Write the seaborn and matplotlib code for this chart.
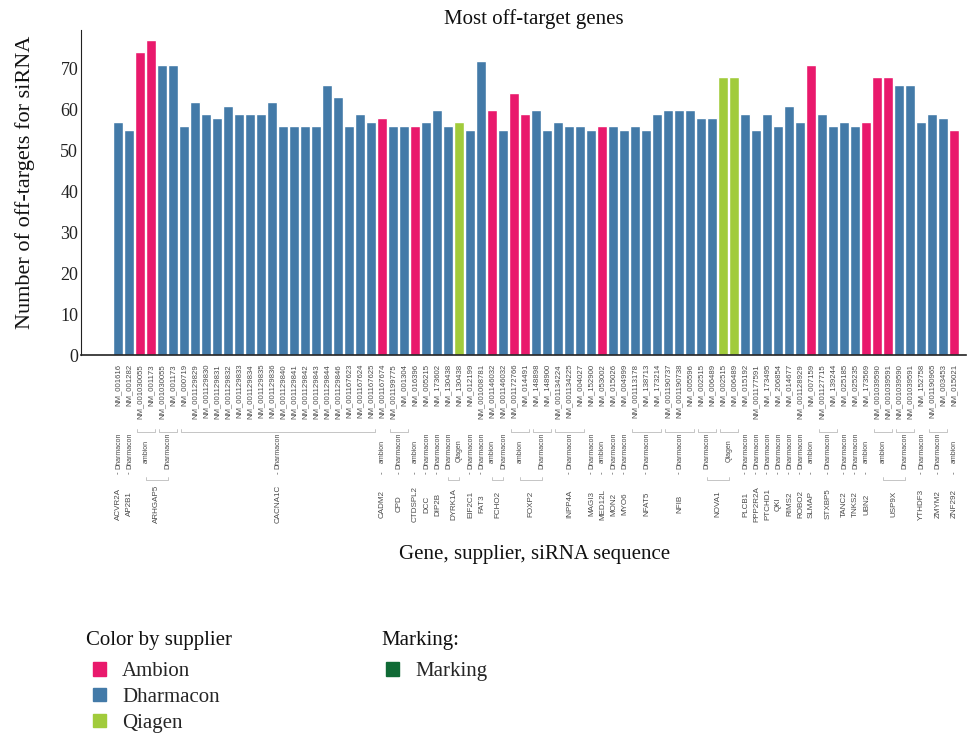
import itertools
import pandas as pd
import seaborn as sns
import matplotlib.pyplot as plt
from matplotlib.patches import Patch

# One entry per bar
gene = ["ACVR2A", "AP2B1",
        "ARHGAP5", "ARHGAP5", "ARHGAP5", "ARHGAP5",
        "CACNA1C", "CACNA1C", "CACNA1C", "CACNA1C", "CACNA1C", "CACNA1C",
        "CACNA1C", "CACNA1C", "CACNA1C", "CACNA1C", "CACNA1C", "CACNA1C",
        "CACNA1C", "CACNA1C", "CACNA1C", "CACNA1C", "CACNA1C", "CACNA1C",
        "CADM2", "CPD", "CPD", "CTDSPL2", "DCC", "DIP2B", "DYRK1A", "DYRK1A",
        "EIF2C1", "FAT3", "FCHO2", "FCHO2", "FOXP2", "FOXP2", "FOXP2", "FOXP2",
        "INPP4A", "INPP4A", "INPP4A", "MAGI3", "MED12L", "MON2", "MYO6",
        "NFAT5", "NFAT5", "NFAT5", "NFIB", "NFIB", "NFIB",
        "NOVA1", "NOVA1", "NOVA1", "NOVA1",
        "PLCB1", "PPP2R2A", "PTCHD1", "QKI", "RIMS2", "ROBO2", "SLMAP",
        "STXBP5", "STXBP5", "TANC2", "TNKS2", "UBN2",
        "USP9X", "USP9X", "USP9X", "USP9X", "YTHDF3", "ZMYM2", "ZMYM2", "ZNF292"]

supplier = ["Dharmacon", "Dharmacon",
            "ambion", "ambion", "Dharmacon", "Dharmacon",
            "Dharmacon", "Dharmacon", "Dharmacon", "Dharmacon", "Dharmacon", "Dharmacon",
            "Dharmacon", "Dharmacon", "Dharmacon", "Dharmacon", "Dharmacon", "Dharmacon",
            "Dharmacon", "Dharmacon", "Dharmacon", "Dharmacon", "Dharmacon", "Dharmacon",
            "ambion", "Dharmacon", "Dharmacon", "ambion", "Dharmacon", "Dharmacon", "Dharmacon", "Qiagen",
            "Dharmacon", "Dharmacon", "ambion", "Dharmacon", "ambion", "ambion", "Dharmacon", "Dharmacon",
            "Dharmacon", "Dharmacon", "Dharmacon", "Dharmacon", "ambion", "Dharmacon", "Dharmacon",
            "Dharmacon", "Dharmacon", "Dharmacon", "Dharmacon", "Dharmacon", "Dharmacon",
            "Dharmacon", "Dharmacon", "Qiagen", "Qiagen",
            "Dharmacon", "Dharmacon", "Dharmacon", "Dharmacon", "Dharmacon", "Dharmacon", "ambion",
            "Dharmacon", "Dharmacon", "Dharmacon", "Dharmacon", "ambion",
            "ambion", "ambion", "Dharmacon", "Dharmacon", "Dharmacon", "Dharmacon", "Dharmacon", "ambion"]

sequence = ["NM_001616", "NM_001282",
            "NM_001030055", "NM_001173", "NM_001030055", "NM_001173",
            "NM_000719", "NM_001129829", "NM_001129830", "NM_001129831", "NM_001129832", "NM_001129833",
            "NM_001129834", "NM_001129835", "NM_001129836", "NM_001129840", "NM_001129841", "NM_001129842",
            "NM_001129843", "NM_001129844", "NM_001129846", "NM_001167623", "NM_001167624", "NM_001167625",
            "NM_001167674", "NM_001199775", "NM_001304", "NM_016396", "NM_005215", "NM_173602",
            "NM_130438", "NM_130438",
            "NM_012199", "NM_001008781", "NM_001146032", "NM_001146032",
            "NM_001172766", "NM_014491", "NM_148898", "NM_148900",
            "NM_001134224", "NM_001134225", "NM_004027", "NM_152900", "NM_053002", "NM_015026", "NM_004999",
            "NM_001113178", "NM_138713", "NM_173214", "NM_001190737", "NM_001190738", "NM_005596",
            "NM_002515", "NM_006489", "NM_002515", "NM_006489",
            "NM_015192", "NM_001177591", "NM_173495", "NM_206854", "NM_014677", "NM_001128929", "NM_007159",
            "NM_001127715", "NM_139244", "NM_025185", "NM_025235", "NM_173569",
            "NM_001039590", "NM_001039591", "NM_001039590", "NM_001039591",
            "NM_152758", "NM_001190965", "NM_003453", "NM_015021"]

off_targets = [57, 55, 74, 77, 71, 71,
               56, 62, 59, 58, 61, 59, 59, 59, 62, 56, 56, 56, 56, 66, 63, 56, 59, 57,
               58, 56, 56, 56, 57, 60, 56, 57,
               55, 72, 60, 55, 64, 59, 60, 55,
               57, 56, 56, 55, 56, 56, 55,
               56, 55, 59, 60, 60, 60,
               58, 58, 68, 68,
               59, 55, 59, 56, 61, 57, 71,
               59, 56, 57, 56, 57,
               68, 68, 66, 66, 57, 59, 58, 55]

palette = {"ambion": "#e9196c", "Dharmacon": "#437aa8", "Qiagen": "#a1cb3b"}
marking_color = "#106a35"

df = pd.DataFrame({"bar": range(len(off_targets)), "gene": gene,
                   "supplier": supplier, "sequence": sequence, "value": off_targets})

sns.set_theme(style="white")
plt.rcParams["font.family"] = ["Liberation Serif", "DejaVu Serif"]

fig = plt.figure(figsize=(9.79, 7.35), dpi=100)
ax = fig.add_axes([81 / 979, 1 - 355 / 735, 885 / 979, 325 / 735])

sns.barplot(data=df, x="bar", y="value", hue="supplier", palette=palette,
            dodge=False, width=0.9, saturation=1, legend=False, ax=ax)

ax.set_xlim(-3.4, 77.05)
ax.set_ylim(0, 79.5)
ax.set_yticks(range(0, 80, 10))
ax.tick_params(axis="y", labelsize=13, length=0, pad=2, colors="#222222")
ax.set_xticks([i - 0.5 for i in range(len(off_targets) + 1)])
ax.set_xticklabels([])
ax.tick_params(axis="x", length=4, width=0.8, color="#222222", direction="out")

sns.despine(ax=ax)
ax.spines["left"].set_color("#222222")
ax.spines["left"].set_linewidth(0.8)
ax.spines["bottom"].set_color("#222222")
ax.spines["bottom"].set_linewidth(1.2)

ax.set_title("Most off-target genes", fontsize=15, pad=4, x=0.512, color="#111111")
ax.set_ylabel("Number of off-targets for siRNA", fontsize=16, color="#111111")
ax.yaxis.set_label_coords(-0.052, 0.53)
ax.set_xlabel("Gene, supplier, siRNA sequence", fontsize=15, color="#111111")
ax.xaxis.set_label_coords(0.512, -0.585)

# hierarchical category labels below the axis
xt = ax.get_xaxis_transform()
lab = dict(rotation=90, ha="center", color="#4a4a4a",
           family="Liberation Sans", transform=xt, clip_on=False)


def yfrac(px):
    return (355 - px) / 325


def bracket(x0, x1, y):
    d = 0.009
    ax.plot([x0, x0, x1, x1], [y + d, y, y, y + d], transform=xt,
            clip_on=False, color="#bbbbbb", lw=0.6)


for i, s in enumerate(sequence):
    ax.text(i, yfrac(364), s, va="top", fontsize=5.6, **lab)

pos = 0
gene_groups = {}
for (g, s), run in itertools.groupby(zip(gene, supplier)):
    n = len(list(run))
    centre = pos + (n - 1) / 2
    ax.text(centre, yfrac(451), s, va="center", fontsize=5.0, **lab)
    if n > 1:
        bracket(pos - 0.3, pos + n - 0.7, yfrac(432))
    gene_groups.setdefault(g, []).append(centre)
    pos += n

for g, centres in gene_groups.items():
    c = (centres[0] + centres[-1]) / 2
    ax.text(c, yfrac(504), g, va="center", fontsize=5.8, **lab)
    if len(centres) > 1:
        bracket(centres[0], centres[-1], yfrac(480))
    else:
        ax.text(c, yfrac(473), "-", va="center", fontsize=5.8, **lab)

# legends: headings as text, swatches indented under them
fig.text(86 / 979, 1 - 631 / 735, "Color by supplier", fontsize=15, va="top", color="#111111")
fig.text(381 / 979, 1 - 631 / 735, "Marking:", fontsize=15, va="top", color="#111111")

sup_handles = [Patch(color=palette[k]) for k in ["ambion", "Dharmacon", "Qiagen"]]
leg_style = dict(loc="upper left", frameon=False, fontsize=15,
                 handlelength=0.63, handleheight=0.63, handletextpad=0.77,
                 labelspacing=0.32, borderpad=0, borderaxespad=0)
fig.legend(sup_handles, ["Ambion", "Dharmacon", "Qiagen"],
           bbox_to_anchor=(93 / 979, 1 - 662 / 735), **leg_style)
fig.legend([Patch(color=marking_color)], ["Marking"],
           bbox_to_anchor=(386 / 979, 1 - 662 / 735), **leg_style)

fig.savefig("out.png", dpi=100)
